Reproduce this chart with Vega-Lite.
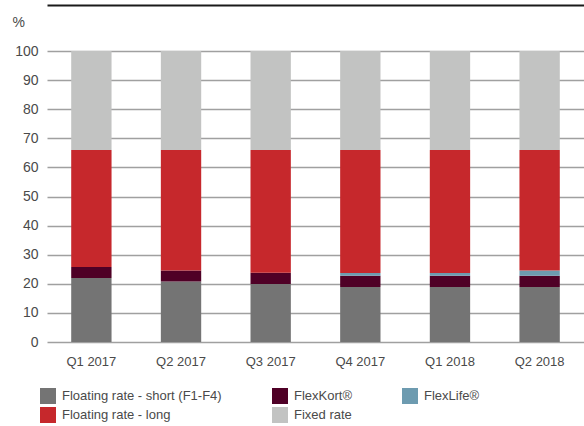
{
  "$schema": "https://vega.github.io/schema/vega-lite/v6.json",
  "autosize": "none",
  "width": 537,
  "height": 291,
  "padding": {"left": 47, "top": 51, "right": 0, "bottom": 84},
  "background": "white",
  "config": {
    "view": {"stroke": null},
    "font": "Liberation Sans",
    "axis": {"labelFont": "Liberation Sans", "labelColor": "#4a4a4a"},
    "legend": {"labelFont": "Liberation Sans"}
  },
  "data": {
    "values": [
      {"q": "Q1 2017", "s": "Floating rate - short (F1-F4)", "k": 1, "v": 22},
      {"q": "Q1 2017", "s": "FlexKort®", "k": 2, "v": 3.8},
      {"q": "Q1 2017", "s": "FlexLife®", "k": 3, "v": 0},
      {"q": "Q1 2017", "s": "Floating rate - long", "k": 4, "v": 40.2},
      {"q": "Q1 2017", "s": "Fixed rate", "k": 5, "v": 34},
      {"q": "Q2 2017", "s": "Floating rate - short (F1-F4)", "k": 1, "v": 20.8},
      {"q": "Q2 2017", "s": "FlexKort®", "k": 2, "v": 3.8},
      {"q": "Q2 2017", "s": "FlexLife®", "k": 3, "v": 0},
      {"q": "Q2 2017", "s": "Floating rate - long", "k": 4, "v": 41.4},
      {"q": "Q2 2017", "s": "Fixed rate", "k": 5, "v": 34},
      {"q": "Q3 2017", "s": "Floating rate - short (F1-F4)", "k": 1, "v": 19.9},
      {"q": "Q3 2017", "s": "FlexKort®", "k": 2, "v": 3.9},
      {"q": "Q3 2017", "s": "FlexLife®", "k": 3, "v": 0},
      {"q": "Q3 2017", "s": "Floating rate - long", "k": 4, "v": 42.2},
      {"q": "Q3 2017", "s": "Fixed rate", "k": 5, "v": 34},
      {"q": "Q4 2017", "s": "Floating rate - short (F1-F4)", "k": 1, "v": 18.9},
      {"q": "Q4 2017", "s": "FlexKort®", "k": 2, "v": 3.9},
      {"q": "Q4 2017", "s": "FlexLife®", "k": 3, "v": 0.9},
      {"q": "Q4 2017", "s": "Floating rate - long", "k": 4, "v": 42.3},
      {"q": "Q4 2017", "s": "Fixed rate", "k": 5, "v": 34},
      {"q": "Q1 2018", "s": "Floating rate - short (F1-F4)", "k": 1, "v": 18.9},
      {"q": "Q1 2018", "s": "FlexKort®", "k": 2, "v": 3.9},
      {"q": "Q1 2018", "s": "FlexLife®", "k": 3, "v": 0.9},
      {"q": "Q1 2018", "s": "Floating rate - long", "k": 4, "v": 42.3},
      {"q": "Q1 2018", "s": "Fixed rate", "k": 5, "v": 34},
      {"q": "Q2 2018", "s": "Floating rate - short (F1-F4)", "k": 1, "v": 18.9},
      {"q": "Q2 2018", "s": "FlexKort®", "k": 2, "v": 3.9},
      {"q": "Q2 2018", "s": "FlexLife®", "k": 3, "v": 1.8},
      {"q": "Q2 2018", "s": "Floating rate - long", "k": 4, "v": 41.4},
      {"q": "Q2 2018", "s": "Fixed rate", "k": 5, "v": 34}
    ]
  },
  "layer": [
    {
      "mark": {"type": "bar"},
      "encoding": {
        "x": {
          "field": "q", "type": "nominal", "sort": null,
          "scale": {"paddingInner": 0.55, "paddingOuter": 0.27},
          "axis": {
            "title": null, "labelAngle": 0, "domain": false, "ticks": false, "tickSize": 0,
            "labelPadding": 13, "labelFontSize": 13, "grid": false
          }
        },
        "y": {
          "field": "v", "type": "quantitative", "stack": "zero",
          "scale": {"domain": [0, 100], "nice": false},
          "axis": {
            "title": "%", "titleAngle": 0, "titleX": -35, "titleY": -29,
            "titleAlign": "left", "titleBaseline": "middle", "titleFontSize": 14,
            "titleFontWeight": "normal", "titleColor": "#4a4a4a",
            "values": [0, 10, 20, 30, 40, 50, 60, 70, 80, 90, 100],
            "domain": false, "ticks": false, "tickSize": 0, "labelPadding": 9,
            "labelFontSize": 14, "grid": true, "gridColor": "#a0a0a0", "gridWidth": 1.5
          }
        },
        "color": {
          "field": "s", "type": "nominal",
          "scale": {
            "domain": ["Floating rate - short (F1-F4)", "FlexKort®", "FlexLife®", "Floating rate - long", "Fixed rate"],
            "range": ["#747474", "#4f0026", "#6d9bb0", "#c6282c", "#c2c3c2"]
          },
          "legend": {
            "title": null, "orient": "none", "legendX": -7, "legendY": 337,
            "direction": "horizontal", "columns": 3, "columnPadding": 50, "rowPadding": 3,
            "symbolType": "square", "symbolSize": 256, "symbolStrokeWidth": 0,
            "labelFontSize": 13, "labelColor": "#4a4a4a", "labelOffset": 6, "labelLimit": 300
          }
        },
        "order": {"field": "k", "type": "quantitative", "sort": "ascending"}
      }
    },
    {
      "mark": {"type": "bar", "opacity": 0},
      "encoding": {
        "x": {
          "field": "q", "type": "nominal", "sort": null,
          "axis": {
            "orient": "top", "title": null, "labels": false, "ticks": false, "grid": false,
            "domain": true, "domainColor": "#1a1a1a", "domainWidth": 2, "offset": 46
          }
        }
      }
    }
  ],
  "resolve": {"axis": {"x": "independent"}}
}
